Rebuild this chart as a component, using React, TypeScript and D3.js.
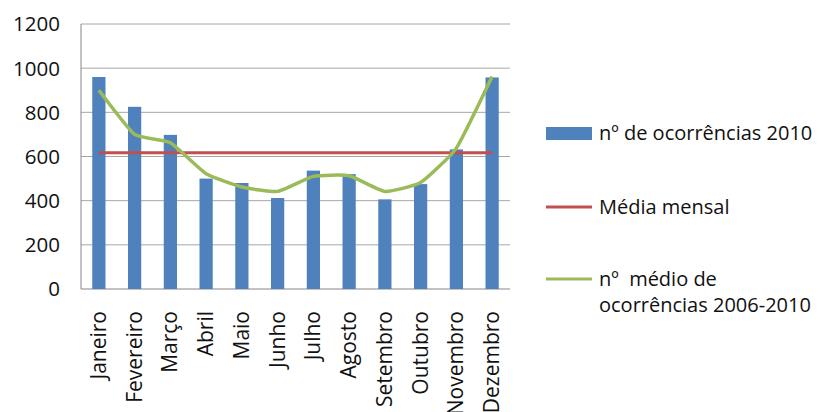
import React, { useEffect, useRef } from 'react';
import * as d3 from 'd3';

const months = ["Janeiro", "Fevereiro", "Março", "Abril", "Maio", "Junho", "Julho", "Agosto", "Setembro", "Outubro", "Novembro", "Dezembro"];
const ocorrencias2010 = [960, 825, 698, 500, 480, 412, 536, 520, 406, 475, 632, 958];
const medio20062010 = [900, 700, 662, 522, 462, 442, 510, 513, 442, 482, 638, 962];
const yTicks = [0, 200, 400, 600, 800, 1000, 1200];
const legendLabels = ["nº de ocorrências 2010", "Média mensal", "nº  médio de|ocorrências 2006-2010"];

const BLUE = '#4F81BD';
const RED = '#C0504D';
const GREEN = '#9BBB59';
const FONT = '"Open Sans", sans-serif';

function Chart() {
    const ref = useRef<SVGSVGElement | null>(null);

    useEffect(() => {
        const svg = d3.select(ref.current);
        svg.selectAll("*").remove();

        const left = 81, right = 510, top = 24, bottom = 289;

        const x = d3.scaleBand().domain(months).range([left, right]).paddingInner(0.63).paddingOuter(0.315);
        const y = d3.scaleLinear().domain([0, 1200]).range([bottom, top]);
        const cx = (m: string) => (x(m) as number) + x.bandwidth() / 2;

        // gridlines
        svg.append("g")
            .selectAll("line")
            .data(yTicks)
            .enter()
            .append("line")
            .attr("x1", left)
            .attr("x2", right)
            .attr("y1", d => y(d))
            .attr("y2", d => y(d))
            .attr("stroke", d => d === 0 ? '#868686' : '#A6A6A6')
            .attr("stroke-width", 1);

        // y axis line
        svg.append("line")
            .attr("x1", left).attr("x2", left)
            .attr("y1", top).attr("y2", bottom)
            .attr("stroke", '#868686');

        // tick labels
        svg.append("g")
            .selectAll("text")
            .data(yTicks)
            .enter()
            .append("text")
            .attr("x", 60)
            .attr("y", d => y(d))
            .attr("dy", "0.36em")
            .attr("text-anchor", "end")
            .style("font-family", FONT)
            .style("font-size", "20.5px")
            .style("fill", '#111')
            .text(d => d);

        // bars
        svg.append("g")
            .selectAll("rect")
            .data(ocorrencias2010)
            .enter()
            .append("rect")
            .attr("x", (d, i) => x(months[i]) as number)
            .attr("y", d => y(d))
            .attr("width", x.bandwidth())
            .attr("height", d => bottom - y(d))
            .attr("fill", BLUE);

        // média mensal
        const media = d3.mean(ocorrencias2010) as number;
        svg.append("line")
            .attr("x1", cx(months[0]))
            .attr("x2", cx(months[months.length - 1]))
            .attr("y1", y(media))
            .attr("y2", y(media))
            .attr("stroke", RED)
            .attr("stroke-width", 3);

        // green line
        const line = d3.line<number>()
            .x((d, i) => cx(months[i]))
            .y(d => y(d))
            .curve(d3.curveCardinal.tension(0.55));
        svg.append("path")
            .datum(medio20062010)
            .attr("d", line)
            .attr("fill", "none")
            .attr("stroke", GREEN)
            .attr("stroke-width", 3.5)
            .attr("stroke-linejoin", "round");

        // x labels
        svg.append("g")
            .selectAll("text")
            .data(months)
            .enter()
            .append("text")
            .attr("transform", d => `translate(${cx(d) + 7},311) rotate(-90)`)
            .attr("text-anchor", "end")
            .style("font-family", FONT)
            .style("font-size", "21px")
            .style("fill", '#111')
            .text(d => d);

        // legend
        const lx = 546, lw = 46, tx = 599;
        const lg = svg.append("g");
        lg.append("rect").attr("x", lx).attr("y", 127).attr("width", lw).attr("height", 13).attr("fill", BLUE);
        lg.append("line").attr("x1", lx).attr("x2", lx + lw).attr("y1", 207).attr("y2", 207).attr("stroke", RED).attr("stroke-width", 3);
        lg.append("line").attr("x1", lx).attr("x2", lx + lw).attr("y1", 279).attr("y2", 279).attr("stroke", GREEN).attr("stroke-width", 3);
        const ly = [133, 207, 279];
        legendLabels.forEach((lab, i) => {
            const t = lg.append("text")
                .attr("x", tx)
                .attr("y", ly[i])
                .style("font-family", FONT)
                .style("font-size", "20px")
                .style("fill", '#111')
                .style("white-space", "pre");
            lab.split("|").forEach((part, j) => {
                t.append("tspan").attr("x", tx).attr("dy", j === 0 ? "0.36em" : "1.27em").text(part);
            });
        });
    }, []);

    return <svg ref={ref} width={824} height={412} style={{ position: 'absolute', left: 0, top: 0, background: '#fff' }} />;
}

export default function App() {
    return <Chart />;
}
